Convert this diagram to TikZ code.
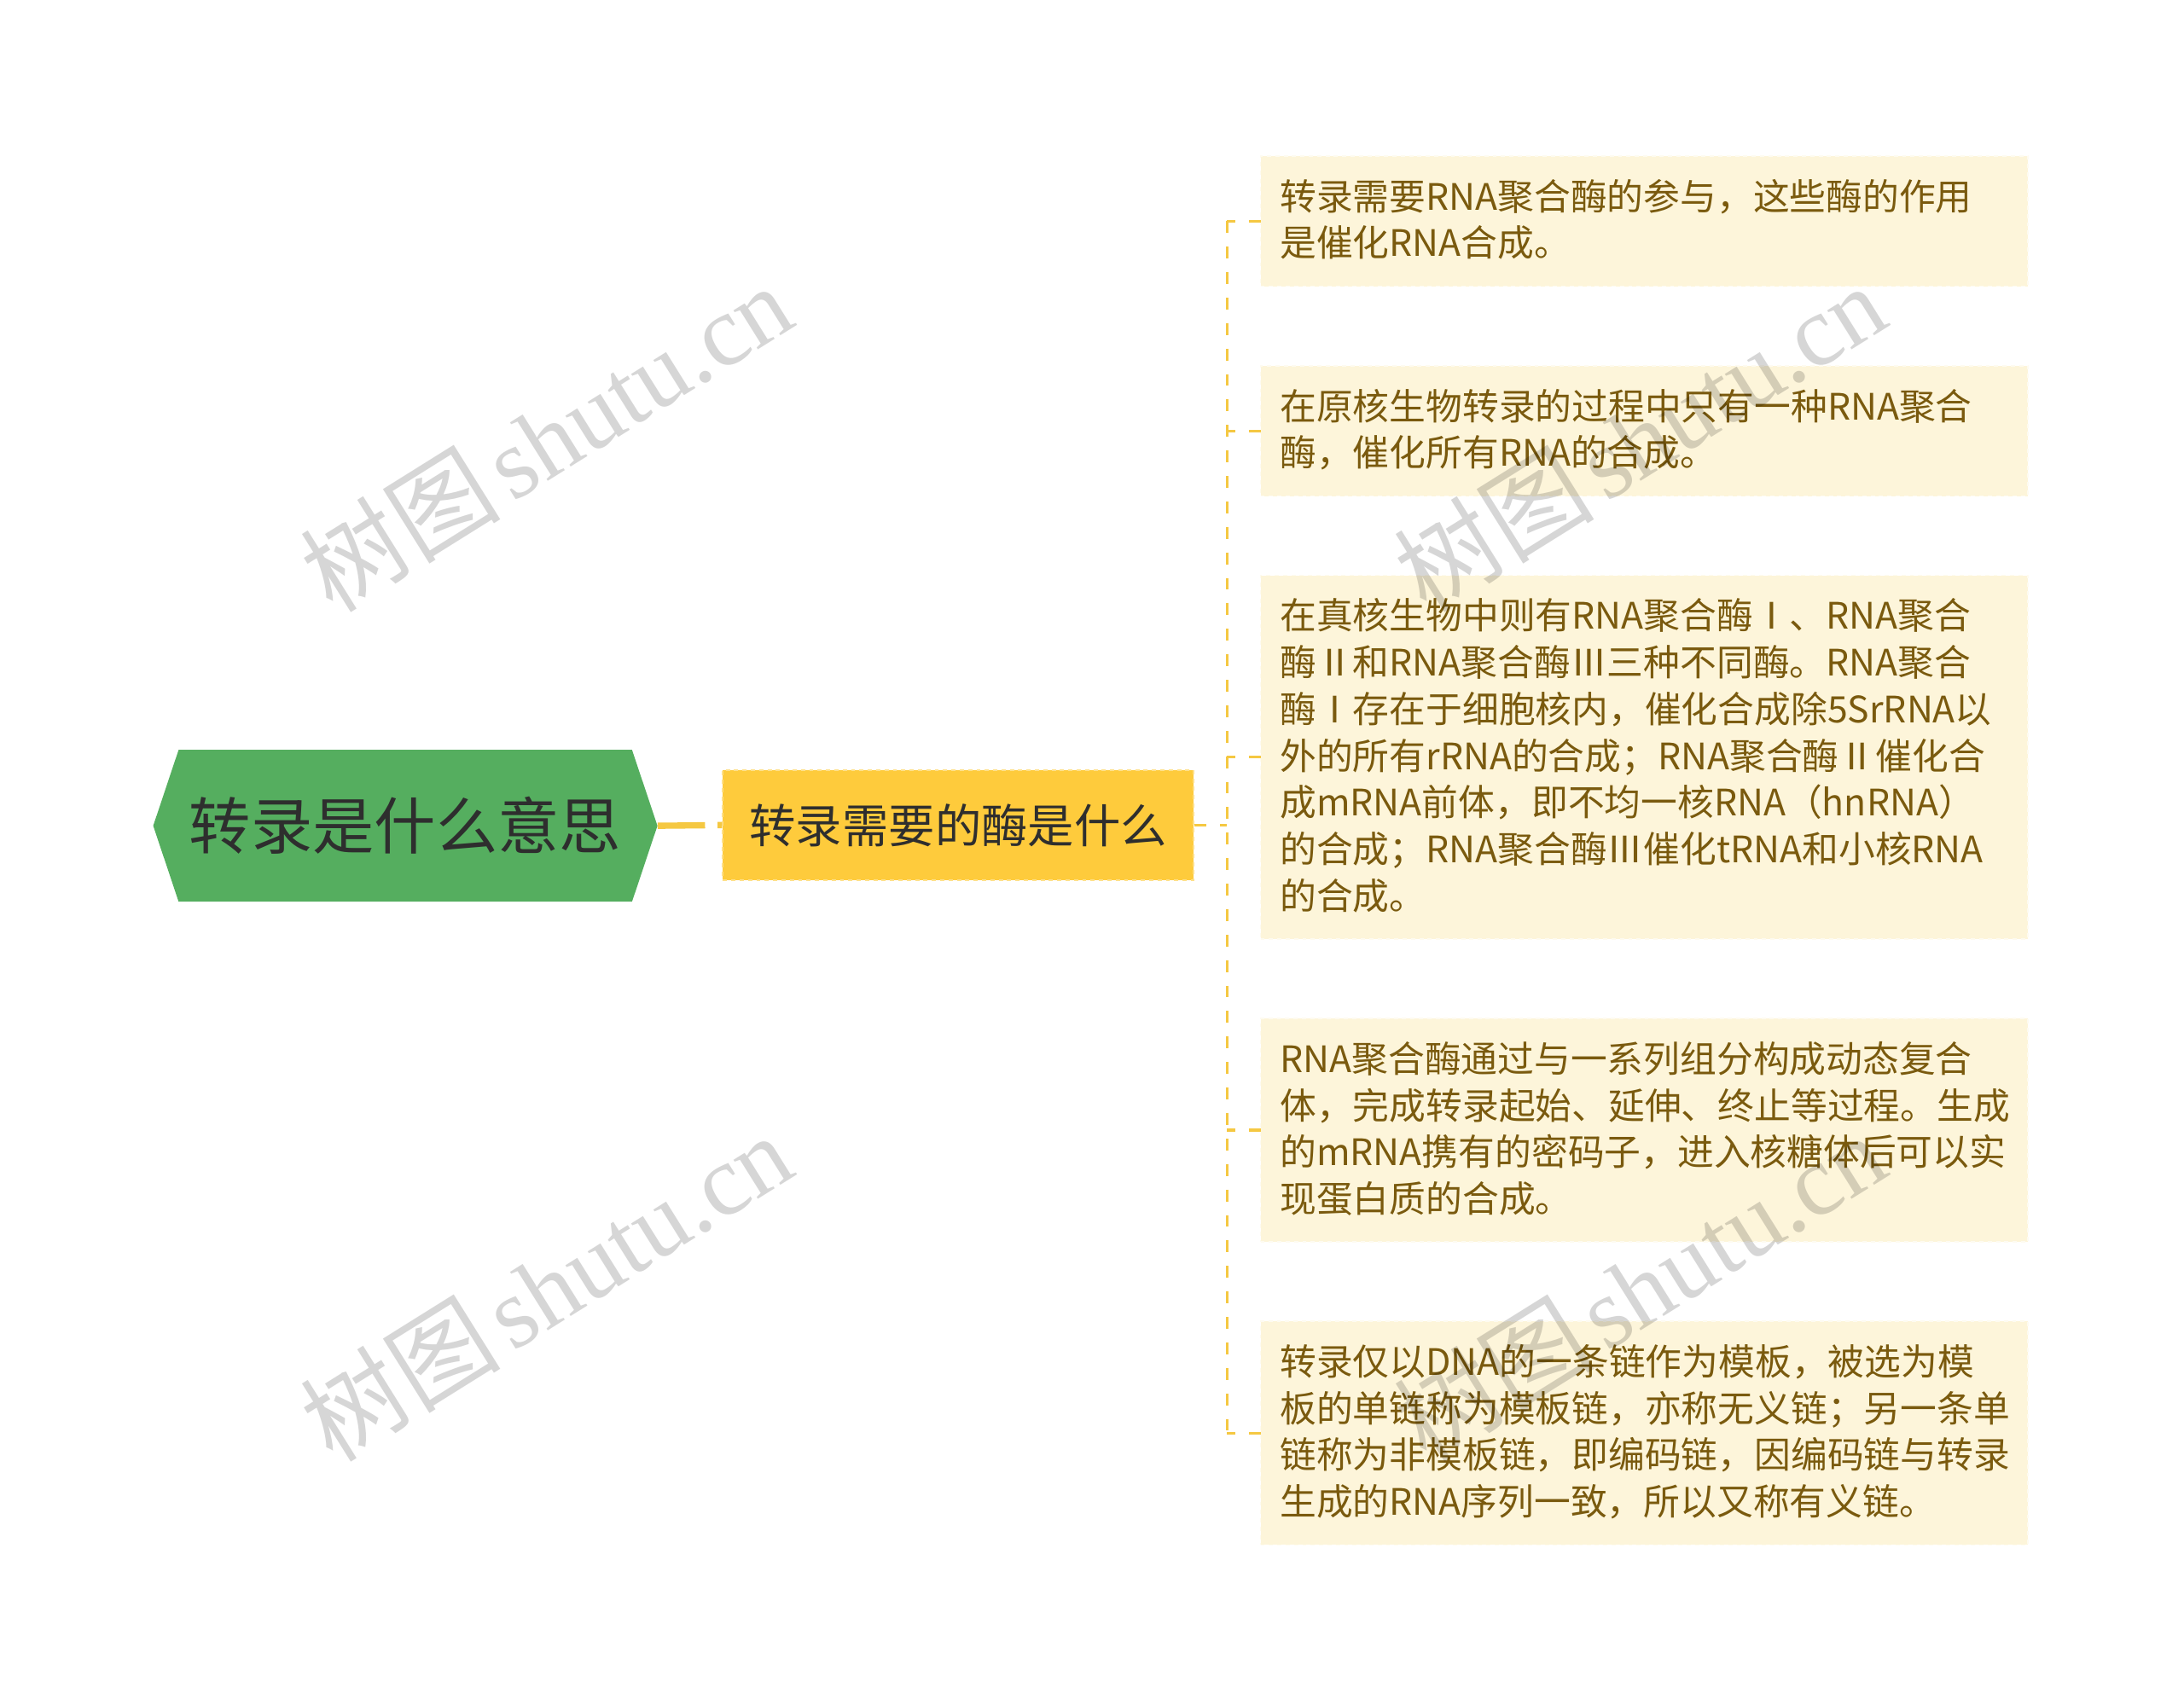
\documentclass[tikz,border=0pt]{standalone}
\usepackage{fontspec}
\newfontfamily\cjk{Noto Sans CJK SC}
\newfontfamily\wmlatin{Liberation Serif}
\usetikzlibrary{positioning,shapes.symbols}
\definecolor{rootgreen}{HTML}{55AE5F}
\definecolor{subyellow}{HTML}{FECB3C}
\definecolor{leafcream}{HTML}{FDF5DA}
\definecolor{leafbrown}{HTML}{7A5A0E}
\definecolor{linkyellow}{HTML}{F5C842}
\definecolor{darktext}{HTML}{2E2E2E}
\newcommand\lstrut{\rule[-8pt]{0pt}{33.5pt}}
\tikzset{
  rootbox/.style={shape=signal, signal to=west and east, signal pointer angle=143,
    fill=rootgreen, text=darktext, inner sep=0pt, minimum width=362pt, minimum height=109pt,
    font=\cjk\fontsize{44.3pt}{50pt}\selectfont},
  subbox/.style={rectangle, fill=subyellow, draw=subyellow!60!white, dashed, line width=1.2pt,
    text=darktext, inner sep=0pt, minimum width=338pt, minimum height=79pt,
    font=\cjk\fontsize{33.3pt}{40pt}\selectfont},
  leafbox/.style={rectangle, fill=leafcream, draw=leafcream!40!white, dashed, line width=1pt,
    outer sep=0pt, text=leafbrown, text width=523pt, align=left, inner xsep=14pt, inner ysep=13.3pt,
    font=\cjk\fontsize{26.2pt}{33.5pt}\selectfont},
  link/.style={draw=linkyellow, line width=4.5pt, dash pattern=on 34pt off 9pt},
  branch/.style={draw=linkyellow, line width=2pt, dash pattern=on 8.5pt off 9.8pt},
  mark wm/.style={text=black, text opacity=0.16, rotate=32, inner sep=0pt}
}
\begin{document}
\begin{tikzpicture}[x=1pt,y=-1pt]
\useasboundingbox (0,0) rectangle (1568,1220);
\node[rootbox] (root) at (291,593) {转录是什么意思};
\node[subbox] (sub) at (688,592.5) {转录需要的酶是什么};
\node[leafbox, anchor=north west] (l1) at (905,112) {\lstrut 转录需要RNA聚合酶的参与，这些酶的作用\\是催化RNA合成。\lstrut};
\node[leafbox, below=57pt of l1] (l2) {\lstrut 在原核生物转录的过程中只有一种RNA聚合\\酶，催化所有RNA的合成。\lstrut};
\node[leafbox, below=57pt of l2] (l3) {\lstrut 在真核生物中则有RNA聚合酶Ⅰ、RNA聚合\\酶Ⅱ和RNA聚合酶Ⅲ三种不同酶。RNA聚合\\酶Ⅰ存在于细胞核内，催化合成除5SrRNA以\\外的所有rRNA的合成；RNA聚合酶Ⅱ催化合\\成mRNA前体，即不均一核RNA（hnRNA）\\的合成；RNA聚合酶Ⅲ催化tRNA和小核RNA\\的合成。\lstrut};
\node[leafbox, below=57pt of l3] (l4) {\lstrut RNA聚合酶通过与一系列组分构成动态复合\\体，完成转录起始、延伸、终止等过程。生成\\的mRNA携有的密码子，进入核糖体后可以实\\现蛋白质的合成。\lstrut};
\node[leafbox, below=57pt of l4] (l5) {\lstrut 转录仅以DNA的一条链作为模板，被选为模\\板的单链称为模板链，亦称无义链；另一条单\\链称为非模板链，即编码链，因编码链与转录\\生成的RNA序列一致，所以又称有义链。\lstrut};
\coordinate (hub) at (881,592.5);
\draw[link] (root.east) -- (sub.west);
\draw[branch] (sub.east) -- (hub);
\draw[branch] (hub |- l1.west) -- (hub |- l5.west);
\draw[branch] (l1.west) -- (hub |- l1.west);
\draw[branch] (l2.west) -- (hub |- l2.west);
\draw[branch] (l3.west) -- (hub |- l3.west);
\draw[branch] (l4.west) -- (hub |- l4.west);
\draw[branch] (l5.west) -- (hub |- l5.west);
\node[mark wm] (wm1) at (392,314) {\cjk\fontsize{72pt}{80pt}\selectfont 树图\hspace{8pt}\wmlatin shutu.cn};
\node[mark wm] (wm2) at (1177,314) {\cjk\fontsize{72pt}{80pt}\selectfont 树图\hspace{8pt}\wmlatin shutu.cn};
\node[mark wm] (wm3) at (392,924) {\cjk\fontsize{72pt}{80pt}\selectfont 树图\hspace{8pt}\wmlatin shutu.cn};
\node[mark wm] (wm4) at (1177,924) {\cjk\fontsize{72pt}{80pt}\selectfont 树图\hspace{8pt}\wmlatin shutu.cn};
\end{tikzpicture}
\end{document}
